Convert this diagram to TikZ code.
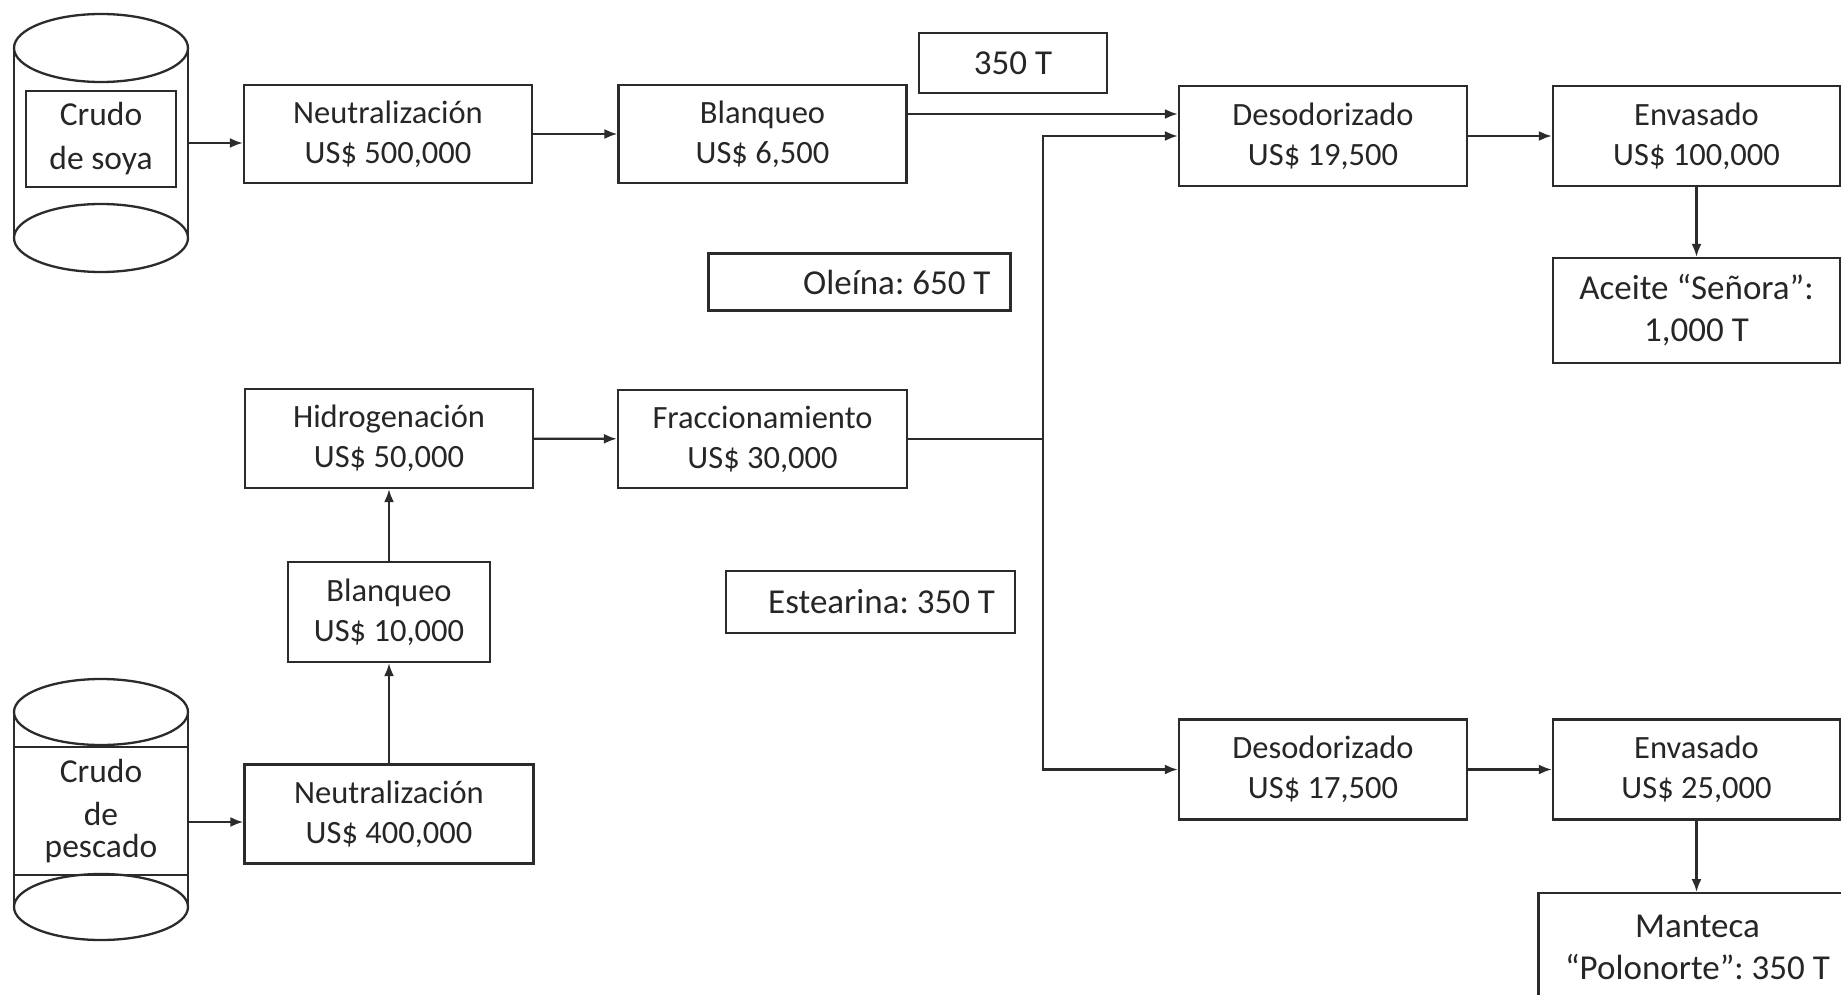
\documentclass[tikz,border=0pt]{standalone}
\usepackage{fontspec}
\setmainfont{Carlito}
\usetikzlibrary{arrows.meta}
\definecolor{ink}{HTML}{262626}
\definecolor{linecol}{HTML}{2B2B2B}
\frenchspacing
\begin{document}
\begin{tikzpicture}[x=1pt,y=-1pt,
  every node/.style={font=\fontsize{32.5}{40}\selectfont, text=ink},
  procbox/.style={draw=linecol, line width=2.3pt, inner sep=0pt, align=center},
  largetext/.style={font=\fontsize{35}{42}\selectfont},
  tagbox/.style={draw=linecol, line width=2.3pt, inner ysep=0pt, inner xsep=20pt,
                 align=flush right, largetext},
  tank/.style={draw=linecol, line width=2.3pt},
  flow/.style={draw=linecol, line width=2.2pt, -{Latex[length=13pt,width=10pt]}},
  plain/.style={draw=linecol, line width=2.2pt}]
\useasboundingbox (0,0) rectangle (1841,995);
\clip (0,0) rectangle (1841,995);

% crude soybean oil tank
\draw[tank] (14,48) -- (14,238) (188,48) -- (188,238);
\draw[tank] (101,48) ellipse [x radius=87pt, y radius=34pt];
\draw[tank] (101,238) ellipse [x radius=87pt, y radius=34pt];
\node[procbox, minimum width=150, minimum height=96,
      font=\fontsize{33.5}{44}\selectfont] (soya) at (101,139) {Crudo\\de soya};
\coordinate (soyaout) at (188,143);

% crude fish oil tank
\draw[tank] (14,712) -- (14,907) (188,712) -- (188,907);
\draw[tank] (101,712) ellipse [x radius=87pt, y radius=33pt];
\draw[tank] (101,907) ellipse [x radius=87pt, y radius=33pt];
\node[minimum width=174, minimum height=128, inner sep=0pt, align=center,
      font=\fontsize{33.5}{40}\selectfont] (pescado) at (101,811)
  {Crudo\\[3pt]de\\[-8pt]pescado};
\draw[tank] (pescado.north west) -- (pescado.north east);
\draw[tank] (pescado.south west) -- (pescado.south east);
\coordinate (pescadoout) at (188,822);

% soybean line
\node[procbox, minimum width=288, minimum height=98] (n1) at (388,134) {Neutralización\\US\$ 500,000};
\node[procbox, minimum width=288, minimum height=98] (b1) at (762.5,134) {Blanqueo\\US\$ 6,500};
\node[procbox, largetext, minimum width=188, minimum height=60] (t350) at (1013,63) {350 T};
\node[procbox, minimum width=288, minimum height=100] (d1) at (1323,136) {Desodorizado\\US\$ 19,500};
\node[procbox, minimum width=287, minimum height=100] (e1) at (1696.5,136) {Envasado\\US\$ 100,000};
\node[procbox, largetext, minimum width=287, minimum height=105] (aceite) at (1696.5,310.5)
  {Aceite “Señora”:\\1,000 T};

% fish line
\node[procbox, minimum width=289, minimum height=99] (n2) at (389,814) {Neutralización\\US\$ 400,000};
\node[procbox, minimum width=202, minimum height=100] (b2) at (389,612) {Blanqueo\\US\$ 10,000};
\node[procbox, minimum width=288, minimum height=99] (h) at (389,438.5) {Hidrogenación\\US\$ 50,000};
\node[procbox, minimum width=289, minimum height=98] (f) at (762.5,439) {Fraccionamiento\\US\$ 30,000};

% fractions
\node[tagbox, text width=262, minimum height=57] (oleina) at (859.5,282) {Oleína: 650 T};
\node[tagbox, text width=249, minimum height=62] (estearina) at (870.5,602) {Estearina: 350 T};

% shortening line
\node[procbox, minimum width=288, minimum height=100] (d2) at (1323,769.5) {Desodorizado\\US\$ 17,500};
\node[procbox, minimum width=287, minimum height=100] (e2) at (1696.5,769.5) {Envasado\\US\$ 25,000};
\node[procbox, largetext, minimum width=318, minimum height=108, anchor=north] (manteca) at (1697.5,892)
  {Manteca\\“Polonorte”: 350 T};

% connectors
\draw[flow] (soyaout) -- (n1.west |- soyaout);
\draw[flow] (n1) -- (b1);
\draw[flow] (b1.east |- 0,114) -- (d1.west |- 0,114);
\draw[flow] (d1) -- (e1);
\draw[flow] (e1) -- (aceite);

\draw[flow] (pescadoout) -- (n2.west |- pescadoout);
\draw[flow] (n2) -- (b2);
\draw[flow] (b2) -- (h);
\draw[flow] (h) -- (f);

\coordinate (split) at (1043,439);
\draw[plain] (f.east) -- (split);
\draw[flow] (split) |- (d1.west);
\draw[flow] (split) |- (d2.west);
\draw[flow] (d2) -- (e2);
\draw[flow] (e2.south) -- (e2.south |- manteca.north);
\end{tikzpicture}
\end{document}
